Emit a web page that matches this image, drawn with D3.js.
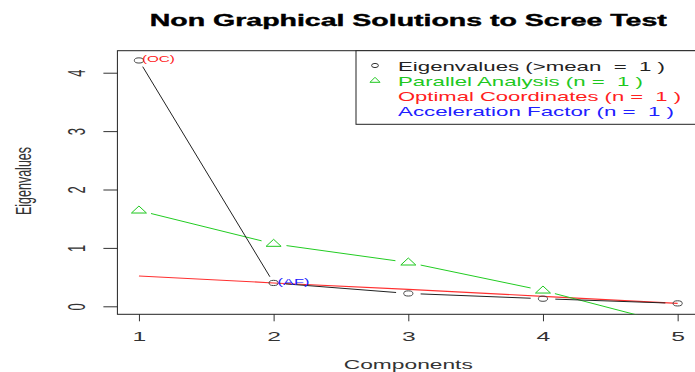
<!DOCTYPE html>
<html>
<head>
<meta charset="utf-8">
<script src="https://cdn.jsdelivr.net/npm/d3@7"></script>
<style>
  html, body { margin: 0; padding: 0; background: #ffffff; }
  svg { display: block; font-family: "Liberation Sans", Arial, sans-serif; }
  text { white-space: pre; }
</style>
</head>
<body>
<svg id="chart" width="695" height="372"></svg>
<script>
// Scree test results
const components = [1, 2, 3, 4, 5];
const eigenvalues = [4.21, 0.40, 0.22, 0.13, 0.05];
const parallelAnalysis = [1.64, 1.07, 0.75, 0.27, -0.33];
const optimalCoordinates = [0.52, 0.40, 0.29, 0.17, 0.05];
const xTicks = [1, 2, 3, 4, 5];
const yTicks = [0, 1, 2, 3, 4];
const legendLabels = [
  "Eigenvalues (>mean  =  1 )",
  "Parallel Analysis (n =  1 )",
  "Optimal Coordinates (n =  1 )",
  "Acceleration Factor (n =  1 )"
];
const legendColors = ["#222222", "#1ec81e", "#ff2020", "#2020ff"];
const titleText = "Non Graphical Solutions to Scree Test";

const svg = d3.select("#chart");
const plot = { left: 117.4, right: 699.2, top: 50.7, bottom: 314.3 };
const sx = 1.9; // horizontal stretch of the drawing device

const x = d3.scaleLinear().domain([0.84, 5.16]).range([plot.left, plot.right]);
const y = d3.scaleLinear().domain([-0.137, 4.377]).range([plot.bottom, plot.top]);

svg.append("defs").append("clipPath").attr("id", "plotClip")
  .append("rect")
  .attr("x", plot.left).attr("y", plot.top)
  .attr("width", plot.right - plot.left).attr("height", plot.bottom - plot.top);

// Title
svg.append("text")
  .attr("x", (plot.left + plot.right) / 2).attr("y", 26)
  .attr("text-anchor", "middle")
  .attr("font-size", 17).attr("font-weight", "bold")
  .attr("stroke", "#000").attr("stroke-width", 0.4)
  .attr("textLength", 517).attr("lengthAdjust", "spacingAndGlyphs")
  .text(titleText);

// Axes
const xAxis = svg.append("g")
  .attr("transform", `translate(0,${plot.bottom})`)
  .call(d3.axisBottom(x).tickValues(xTicks).tickSize(7).tickFormat(d3.format("d")));
xAxis.select(".domain").remove();
xAxis.selectAll(".tick line").attr("stroke", "#333");
xAxis.selectAll(".tick text")
  .attr("y", null).attr("dy", null)
  .attr("transform", `translate(0,27) scale(${sx},1)`)
  .attr("font-size", 13).attr("fill", "#333")
  .attr("font-family", "Liberation Sans, Arial, sans-serif");

const yAxis = svg.append("g")
  .attr("transform", `translate(${plot.left},0)`)
  .call(d3.axisLeft(y).tickValues(yTicks).tickSize(14).tickFormat(d3.format("d")));
yAxis.select(".domain").remove();
yAxis.selectAll(".tick line").attr("stroke", "#333");
yAxis.selectAll(".tick text")
  .attr("x", null).attr("dy", null)
  .attr("text-anchor", "middle")
  .attr("transform", `translate(-32,0) scale(${sx},1) rotate(-90)`)
  .attr("font-size", 13).attr("fill", "#333")
  .attr("font-family", "Liberation Sans, Arial, sans-serif");

// Plot frame
svg.append("rect")
  .attr("x", plot.left).attr("y", plot.top)
  .attr("width", plot.right - plot.left).attr("height", plot.bottom - plot.top)
  .attr("fill", "none").attr("stroke", "#222").attr("stroke-width", 1);

// Axis titles
svg.append("text")
  .attr("x", (plot.left + plot.right) / 2).attr("y", 369)
  .attr("text-anchor", "middle").attr("font-size", 13).attr("fill", "#333")
  .attr("textLength", 129).attr("lengthAdjust", "spacingAndGlyphs")
  .text("Components");
svg.append("text")
  .attr("text-anchor", "middle").attr("font-size", 12.5).attr("fill", "#333")
  .attr("transform", `translate(31,181) scale(1.7,1) rotate(-90)`)
  .text("Eigenvalues");

const layer = svg.append("g").attr("clip-path", "url(#plotClip)");

// Line joining points with gaps around each marker (type "b")
function gappedSegments(values, gap) {
  const pts = values.map((v, i) => [x(components[i]), y(v)]);
  const segs = [];
  for (let i = 0; i < pts.length - 1; i++) {
    const [x0, y0] = pts[i], [x1, y1] = pts[i + 1];
    const dx = (x1 - x0) / sx, dy = y1 - y0;
    const len = Math.hypot(dx, dy);
    if (len <= 2 * gap) continue;
    const f = gap / len;
    segs.push([x0 + (x1 - x0) * f, y0 + (y1 - y0) * f, x1 - (x1 - x0) * f, y1 - (y1 - y0) * f]);
  }
  return segs;
}

function drawGapped(values, color, gap) {
  layer.append("g").selectAll("line")
    .data(gappedSegments(values, gap))
    .join("line")
    .attr("x1", d => d[0]).attr("y1", d => d[1])
    .attr("x2", d => d[2]).attr("y2", d => d[3])
    .attr("stroke", color).attr("stroke-width", 1);
}

// Optimal coordinates line
layer.append("path")
  .datum(optimalCoordinates)
  .attr("d", d3.line().x((d, i) => x(components[i])).y(d => y(d)))
  .attr("fill", "none").attr("stroke", "#ff3030").attr("stroke-width", 1.1);

// Parallel analysis
drawGapped(parallelAnalysis, "#22cc22", 7);
const tri = (cx, cy, hw, up, down) =>
  `M${cx},${cy - up}L${cx + hw},${cy + down}L${cx - hw},${cy + down}Z`;
layer.append("g").selectAll("path")
  .data(parallelAnalysis)
  .join("path")
  .attr("d", (d, i) => tri(x(components[i]), y(d), 7.5, 4.5, 2.5))
  .attr("fill", "none").attr("stroke", "#1ec81e").attr("stroke-width", 1);

// Eigenvalues
drawGapped(eigenvalues, "#222222", 6.5);
layer.append("g").selectAll("ellipse")
  .data(eigenvalues)
  .join("ellipse")
  .attr("cx", (d, i) => x(components[i])).attr("cy", d => y(d))
  .attr("rx", 4.6).attr("ry", 2.6)
  .attr("fill", "none").attr("stroke", "#444").attr("stroke-width", 1);

// Point annotations
svg.append("text")
  .attr("x", x(components[0]) + 3).attr("y", y(eigenvalues[0]) + 1.5)
  .attr("font-size", 9).attr("fill", "#ff2020")
  .attr("textLength", 33).attr("lengthAdjust", "spacingAndGlyphs")
  .text("(OC)");
svg.append("text")
  .attr("x", x(components[1]) + 4).attr("y", y(eigenvalues[1]) + 2)
  .attr("font-size", 9).attr("fill", "#2020ff")
  .attr("textLength", 32).attr("lengthAdjust", "spacingAndGlyphs")
  .text("(AF)");

// Legend
const legend = svg.append("g");
legend.append("rect")
  .attr("x", 356).attr("y", plot.top)
  .attr("width", 360).attr("height", 124.3 - plot.top)
  .attr("fill", "#ffffff").attr("stroke", "#222").attr("stroke-width", 1);
const legendWidths = [267, 245, 283, 276];
legend.selectAll("text.item")
  .data(legendLabels)
  .join("text")
  .attr("class", "item")
  .attr("x", 398).attr("y", (d, i) => 71 + i * 15)
  .attr("font-size", 13)
  .attr("fill", (d, i) => legendColors[i])
  .attr("textLength", (d, i) => legendWidths[i]).attr("lengthAdjust", "spacingAndGlyphs")
  .text(d => d);
legend.append("ellipse")
  .attr("cx", 375).attr("cy", 65.5).attr("rx", 3.4).attr("ry", 2.1)
  .attr("fill", "none").attr("stroke", "#333").attr("stroke-width", 1);
legend.append("path")
  .attr("d", tri(375, 80.5, 5, 3.2, 1.8))
  .attr("fill", "none").attr("stroke", "#1ec81e").attr("stroke-width", 1);
</script>
</body>
</html>
